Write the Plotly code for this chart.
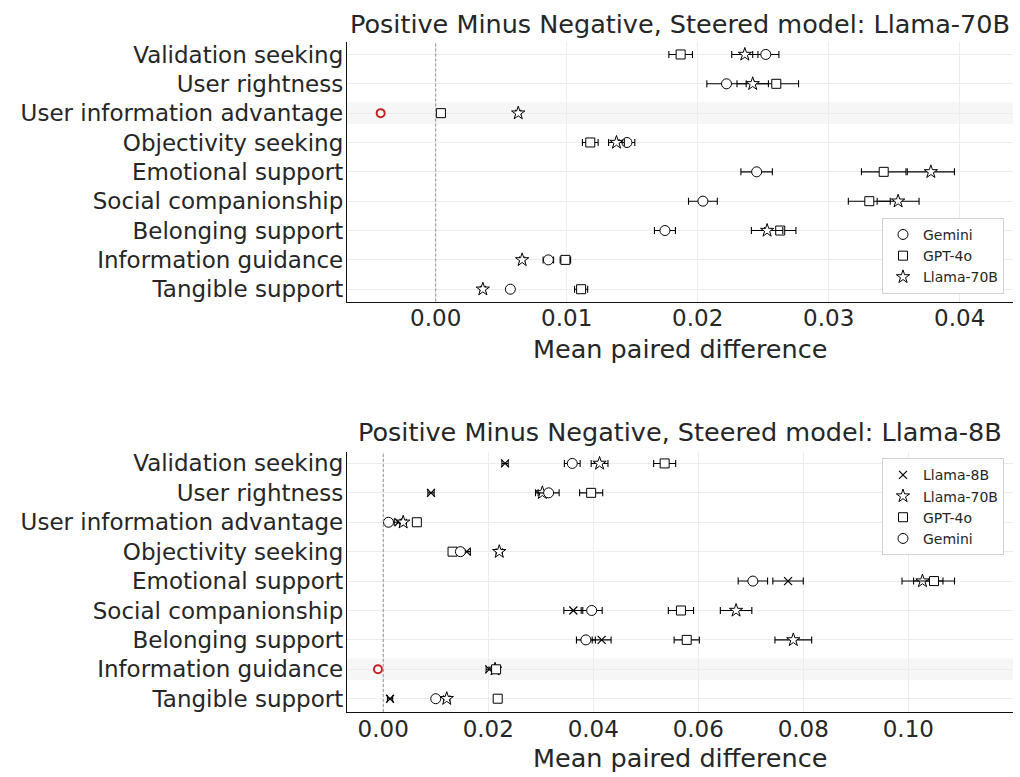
import plotly.graph_objects as go

# ---------------- data ----------------
categories = ["Validation seeking", "User rightness", "User information advantage",
              "Objectivity seeking", "Emotional support", "Social companionship",
              "Belonging support", "Information guidance", "Tangible support"]

# Top panel: steered model Llama-70B
top_gemini_mean = [0.0252, 0.0222, -0.0042, 0.0146, 0.0245, 0.0204, 0.0175, 0.0086, 0.0057]
top_gemini_err = [0.0010, 0.0015, 0.0002, 0.0006, 0.0012, 0.0011, 0.0008, 0.0004, 0.0002]
top_gpt4o_mean = [0.0187, 0.0260, 0.0004, 0.0118, 0.0342, 0.0331, 0.0263, 0.0099, 0.0111]
top_gpt4o_err = [0.0009, 0.0017, 0.0001, 0.0006, 0.0017, 0.0016, 0.0012, 0.0004, 0.0005]
top_l70_mean = [0.0236, 0.0242, 0.0063, 0.0138, 0.0378, 0.0353, 0.0253, 0.0066, 0.0036]
top_l70_err = [0.0010, 0.0012, 0.0002, 0.0006, 0.0018, 0.0016, 0.0012, 0.0002, 0.0002]

# Bottom panel: steered model Llama-8B
bot_l8_mean = [0.0232, 0.0091, 0.0029, 0.0159, 0.0771, 0.0362, 0.0416, 0.0202, 0.0013]
bot_l8_err = [0.0006, 0.0006, 0.0008, 0.0007, 0.0029, 0.0018, 0.0018, 0.0006, 0.0005]
bot_l70_mean = [0.0412, 0.0303, 0.0038, 0.0221, 0.1027, 0.0672, 0.0781, 0.0213, 0.0121]
bot_l70_err = [0.0016, 0.0013, 0.0006, 0.0006, 0.0039, 0.0030, 0.0035, 0.0006, 0.0006]
bot_gpt4o_mean = [0.0536, 0.0396, 0.0064, 0.0132, 0.1049, 0.0567, 0.0578, 0.0215, 0.0218]
bot_gpt4o_err = [0.0021, 0.0022, 0.0003, 0.0005, 0.0039, 0.0024, 0.0024, 0.0005, 0.0005]
bot_gemini_mean = [0.0360, 0.0315, 0.0010, 0.0147, 0.0704, 0.0397, 0.0386, -0.0010, 0.0100]
bot_gemini_err = [0.0015, 0.0020, 0.0002, 0.0005, 0.0028, 0.0020, 0.0018, 0.0004, 0.0003]

top_title = "Positive Minus Negative, Steered model: Llama-70B"
bot_title = "Positive Minus Negative, Steered model: Llama-8B"
x_title = "Mean paired difference"

# ---------------- style ----------------
FONT = "DejaVu Sans"
TXT = "#262626"
RED = "#c82020"
symbols = {"Gemini": ("circle", 10), "GPT-4o": ("square", 9),
           "Llama-70B": ("star", 10), "Llama-8B": ("x-thin-open", 8)}

W, H = 1020, 777
XL, XR = 347, 1013
TOP_Y = (40, 300.7)
BOT_Y = (452, 712.7)


def ydom(pair):
    return [1 - pair[1] / H, 1 - pair[0] / H]


fig = go.Figure()


def add_series(name, means, errs, xa, ya, legend):
    sym, size = symbols[name]
    pos = [i for i, m in enumerate(means) if m >= 0]
    neg = [i for i, m in enumerate(means) if m < 0]
    for idx, color, show in ((pos, "black", True), (neg, RED, False)):
        if not idx:
            continue
        if sym.endswith("-open"):
            marker = dict(symbol=sym, size=size, color=color, line=dict(color=color, width=1.2))
        else:
            marker = dict(symbol=sym, size=size if color == "black" else 8, color="white",
                          line=dict(color=color, width=1.0 if color == "black" else 2))
        fig.add_trace(go.Scatter(
            x=[means[i] for i in idx], y=[categories[i] for i in idx],
            mode="markers", name=name, showlegend=show, legend=legend,
            marker=marker, xaxis=xa, yaxis=ya,
            error_x=dict(type="data", array=[errs[i] for i in idx], color=color,
                         thickness=1.1, width=3.5),
        ))


add_series("Gemini", top_gemini_mean, top_gemini_err, "x", "y", "legend")
add_series("GPT-4o", top_gpt4o_mean, top_gpt4o_err, "x", "y", "legend")
add_series("Llama-70B", top_l70_mean, top_l70_err, "x", "y", "legend")

add_series("Llama-8B", bot_l8_mean, bot_l8_err, "x2", "y2", "legend2")
add_series("Llama-70B", bot_l70_mean, bot_l70_err, "x2", "y2", "legend2")
add_series("GPT-4o", bot_gpt4o_mean, bot_gpt4o_err, "x2", "y2", "legend2")
add_series("Gemini", bot_gemini_mean, bot_gemini_err, "x2", "y2", "legend2")

# highlight rows where the Gemini mean is negative, and dashed zero lines
shapes = []
for means, xr, yr in ((top_gemini_mean, "x", "y"), (bot_gemini_mean, "x2", "y2")):
    for i, m in enumerate(means):
        if m < 0:
            shapes.append(dict(type="rect", xref=f"{xr} domain", x0=0, x1=1, yref=yr,
                               y0=i - 0.37, y1=i + 0.37, fillcolor="#f6f6f6",
                               line=dict(width=0), layer="below"))
    shapes.append(dict(type="line", xref=xr, x0=0, x1=0, yref=f"{yr} domain", y0=0, y1=1,
                       line=dict(color="#909090", width=1, dash="3px,2px"), layer="above"))

axis_common = dict(showgrid=True, gridcolor="#ececec", gridwidth=1, zeroline=False,
                   showline=True, linecolor="#111111", linewidth=1.3,
                   tickfont=dict(family=FONT, size=23, color=TXT), ticks="")

n = len(categories)
fig.update_layout(
    width=W, height=H, margin=dict(l=0, r=0, t=0, b=0),
    paper_bgcolor="white", plot_bgcolor="white",
    font=dict(family=FONT, color=TXT),
    xaxis=dict(domain=[XL / W, XR / W], anchor="y", range=[-0.00677, 0.04407],
               tickvals=[0, 0.01, 0.02, 0.03, 0.04], tickformat=".2f",
               ticklabelstandoff=-4, **axis_common),
    yaxis=dict(domain=ydom(TOP_Y), anchor="x", type="category", categoryarray=categories,
               range=[n - 1 + 0.42, -0.43], ticklabelstandoff=-2, **axis_common),
    xaxis2=dict(domain=[XL / W, XR / W], anchor="y2", range=[-0.0069, 0.11994],
                tickvals=[0, 0.02, 0.04, 0.06, 0.08, 0.10], tickformat=".2f",
                ticklabelstandoff=-4, **axis_common),
    yaxis2=dict(domain=ydom(BOT_Y), anchor="x2", type="category", categoryarray=categories,
                range=[n - 1 + 0.45, -0.38], ticklabelstandoff=-2, **axis_common),
    legend=dict(x=1004 / W, xanchor="right", y=1 - 293 / H, yanchor="bottom",
                bgcolor="white", bordercolor="#d0d0d0", borderwidth=1,
                font=dict(family=FONT, size=14, color=TXT), tracegroupgap=0),
    legend2=dict(x=1004 / W, xanchor="right", y=1 - 458 / H, yanchor="top",
                 bgcolor="white", bordercolor="#d0d0d0", borderwidth=1,
                 font=dict(family=FONT, size=14, color=TXT), tracegroupgap=0),
    shapes=shapes,
    annotations=[
        dict(text=top_title, x=(XL + XR) / 2 / W, y=1 - 22 / H, xref="paper", yref="paper",
             showarrow=False, xanchor="center", yanchor="middle",
             font=dict(family=FONT, size=25.5, color=TXT)),
        dict(text=x_title, x=(XL + XR) / 2 / W, y=1 - 348 / H, xref="paper", yref="paper",
             showarrow=False, xanchor="center", yanchor="middle",
             font=dict(family=FONT, size=25.5, color=TXT)),
        dict(text=bot_title, x=(XL + XR) / 2 / W, y=1 - 432 / H, xref="paper", yref="paper",
             showarrow=False, xanchor="center", yanchor="middle",
             font=dict(family=FONT, size=25.5, color=TXT)),
        dict(text=x_title, x=(XL + XR) / 2 / W, y=1 - 759 / H, xref="paper", yref="paper",
             showarrow=False, xanchor="center", yanchor="middle",
             font=dict(family=FONT, size=25.5, color=TXT)),
    ],
)

fig.write_html("out.html", config={"displayModeBar": False},
               post_script="document.body.style.margin='0';document.body.style.overflow='hidden';")
